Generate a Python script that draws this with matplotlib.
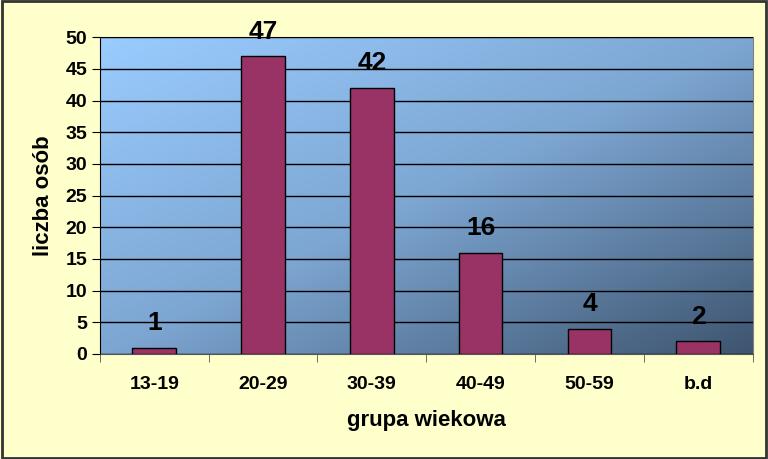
import numpy as np
import matplotlib.pyplot as plt
from matplotlib.colors import LinearSegmentedColormap

plt.rcParams['font.family'] = ['Liberation Sans', 'DejaVu Sans']

groups = ['13-19', '20-29', '30-39', '40-49', '50-59', 'b.d']
counts = [1, 47, 42, 16, 4, 2]

fig = plt.figure(figsize=(7.68, 4.59), dpi=100, facecolor='#FFFFCC')
ax = fig.add_axes([0.130, 0.229, 0.850, 0.690])

# gradient background of the plot area (light top-left, dark bottom-right)
cmap = LinearSegmentedColormap.from_list('bg', ['#9ACCFF', '#7DA6D2', '#3E5570'])
xx, yy = np.meshgrid(np.linspace(0, 1, 200), np.linspace(0, 1, 200))
grad = (xx + (1 - yy)) / 2
ax.imshow(grad, cmap=cmap, extent=[0, 1, 0, 1], transform=ax.transAxes,
          aspect='auto', origin='lower', zorder=0)

x = np.arange(len(groups))
ax.bar(x, counts, width=0.4, color='#993366', edgecolor='black', linewidth=1, zorder=3)

for xi, v in zip(x, counts):
    ax.text(xi, v + 2.0, str(v), ha='center', va='bottom', fontsize=19,
            fontweight='bold', zorder=4)

ax.set_xlim(-0.5, len(groups) - 0.5)
ax.set_ylim(0, 50)
ax.set_yticks(range(0, 51, 5))
ax.yaxis.grid(True, color='black', linewidth=1)
ax.set_axisbelow(False)
for line in ax.get_ygridlines():
    line.set_zorder(2)

ax.set_xticks(x)
ax.set_xticklabels(groups, fontsize=14, fontweight='bold')
ax.set_xticks(np.arange(-0.5, len(groups)), minor=True)
ax.tick_params(axis='x', which='major', length=0, pad=16)
ax.tick_params(axis='x', which='minor', length=6, direction='out', color='#555555')
ax.tick_params(axis='y', length=6, direction='out', labelsize=14, pad=3)
for lab in ax.get_yticklabels():
    lab.set_fontweight('bold')

ax.set_xlabel('grupa wiekowa', fontsize=16, fontweight='bold', labelpad=12)
ax.set_ylabel('liczba osób', fontsize=16, fontweight='bold', labelpad=8)

for side in ['top', 'right']:
    ax.spines[side].set_color('#808080')
ax.spines['left'].set_color('black')
ax.spines['bottom'].set_color('#555555')

# outer frame
fig.patches.append(plt.Rectangle((0.002, 0.003), 0.996, 0.994, transform=fig.transFigure,
                                 fill=False, edgecolor='#333333', linewidth=2))

fig.savefig('out.png', dpi=100, facecolor=fig.get_facecolor())
